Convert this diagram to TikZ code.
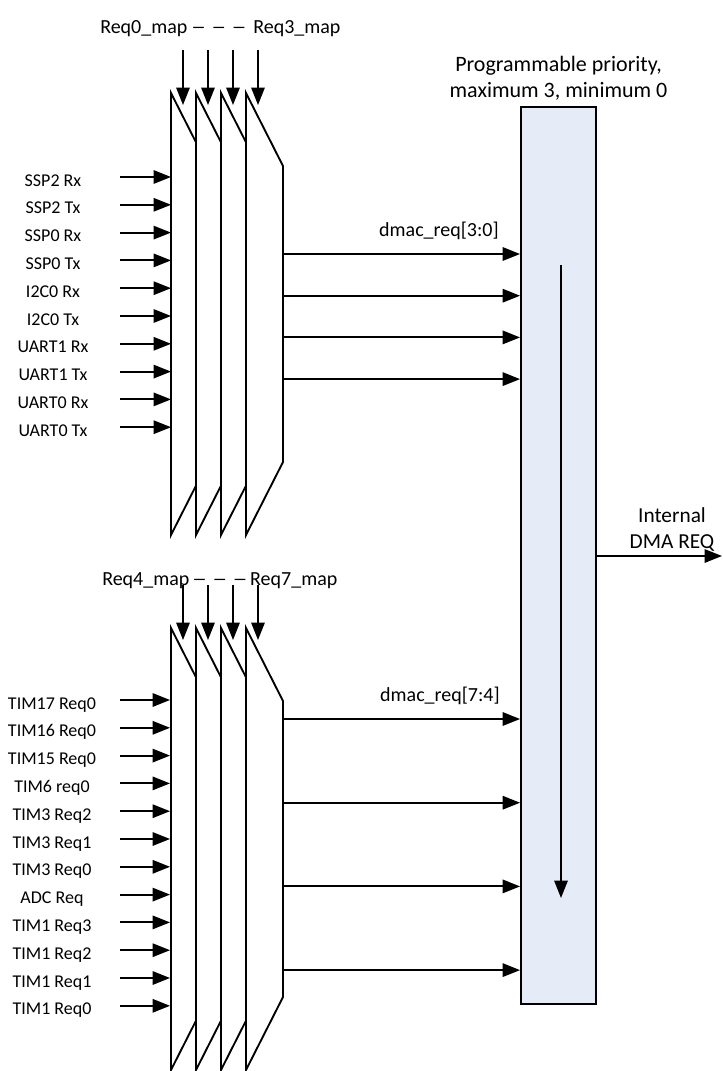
\documentclass[tikz,border=0pt]{standalone}
\usepackage{fontspec}
\setmainfont{Carlito}
\usepackage{graphicx}
\usepackage{tikz}
\usetikzlibrary{arrows.meta, positioning, calc}
\definecolor{prioblue}{RGB}{230,236,247}
\newcommand{\mapdash}{\scalebox{1.5}[1]{--}}

\begin{document}
\begin{tikzpicture}[
  x=0.75pt, y=-0.75pt,
  font=\fontsize{15}{19.5}\selectfont,
  muxbox/.style={draw, fill=white, line width=1.4pt},
  priobox/.style={draw, fill=prioblue, line width=1.4pt, inner sep=0pt,
                  minimum width=56.25pt, minimum height=672.75pt},
  lbl/.style={inner sep=0pt, align=center},
  inlbl/.style={inner sep=0pt, font=\fontsize{13.5}{16}\selectfont},
  arrow/.style={-{Triangle[length=13pt,width=10pt]}, line width=1.4pt},
]
\useasboundingbox (0,0) rectangle (723,1071);

% Priority block
\node[priobox] (prio) at (558.5,555.5) {};
\node[lbl, above=4pt of prio, font=\fontsize{16.5}{19.5}\selectfont] (priolbl)
  {Programmable priority,\\maximum 3, minimum 0};

% Mux stacks (upper: channels 0-3, lower: channels 4-7)
\foreach \ytop/\grp in {93/up, 628/dn} {
  \foreach \i in {0,...,3} {
    \pgfmathsetmacro\xl{171+25*\i}
    \draw[muxbox] (\xl,\ytop) -- ++(37,73) -- ++(0,296) -- ++(-37,73) -- cycle;
    \coordinate (\grp selA\i) at (\xl+12,\ytop-43);
    \coordinate (\grp selB\i) at (\xl+12,\ytop+12);
    \draw[arrow] (\grp selA\i) -- (\grp selB\i);
  }
}

% Map selects
\node[lbl, anchor=base west] (upmap) at (100,33)
  {Req0\_map\hspace{2.8pt}\mapdash\hspace{4pt}\mapdash\hspace{4pt}\mapdash\hspace{5pt}Req3\_map};
\node[lbl, anchor=base west] (dnmap) at (102,585)
  {Req4\_map\hspace{2pt}\mapdash\hspace{4pt}\mapdash\hspace{4pt}\mapdash\hspace{2pt}Req7\_map};

% Upper request inputs
\foreach \name [count=\k from 0] in {SSP2 Rx, SSP2 Tx, SSP0 Rx, SSP0 Tx, I2C0 Rx,
    I2C0 Tx, UART1 Rx, UART1 Tx, UART0 Rx, UART0 Tx} {
  \pgfmathsetmacro\yy{177+27.8*\k}
  \node[inlbl, anchor=base] (upin\k) at (53,\yy+9) {\name};
  \coordinate (upsrc\k) at (120,\yy);
  \coordinate (updst\k) at (171,\yy);
  \draw[arrow] (upsrc\k) -- (updst\k);
}

% Lower request inputs
\foreach \name [count=\k from 0] in {TIM17 Req0, TIM16 Req0, TIM15 Req0, TIM6 req0,
    TIM3 Req2, TIM3 Req1, TIM3 Req0, ADC Req, TIM1 Req3, TIM1 Req2, TIM1 Req1, TIM1 Req0} {
  \pgfmathsetmacro\yy{700+27.8*\k}
  \node[inlbl, anchor=base] (dnin\k) at (52,\yy+9) {\name};
  \coordinate (dnsrc\k) at (120,\yy);
  \coordinate (dndst\k) at (170,\yy);
  \draw[arrow] (dnsrc\k) -- (dndst\k);
}

% dmac_req outputs
\foreach \k in {0,...,3} {
  \coordinate (upout\k) at (283,254+41.7*\k);
  \draw[arrow] (upout\k) -- (upout\k -| prio.west);
  \coordinate (dnout\k) at (282,719+83.7*\k);
  \draw[arrow] (dnout\k) -- (dnout\k -| prio.west);
}
\node[lbl, anchor=base east] (upreq) at (499,236) {dmac\_req[3:0]};
\node[lbl, anchor=base east] (dnreq) at (500,701) {dmac\_req[7:4]};

% Priority scan direction
\coordinate (scantop) at (561,265);
\coordinate (scanbot) at (561,898);
\draw[arrow] (scantop) -- (scanbot);

% Internal DMA request out
\coordinate (dmaout) at (722,556);
\draw[arrow] (prio.east |- dmaout) -- (dmaout);
\node[lbl, anchor=south, font=\fontsize{16}{20}\selectfont] (dmalbl) at (672,552)
  {Internal\\DMA REQ};
\end{tikzpicture}
\end{document}
